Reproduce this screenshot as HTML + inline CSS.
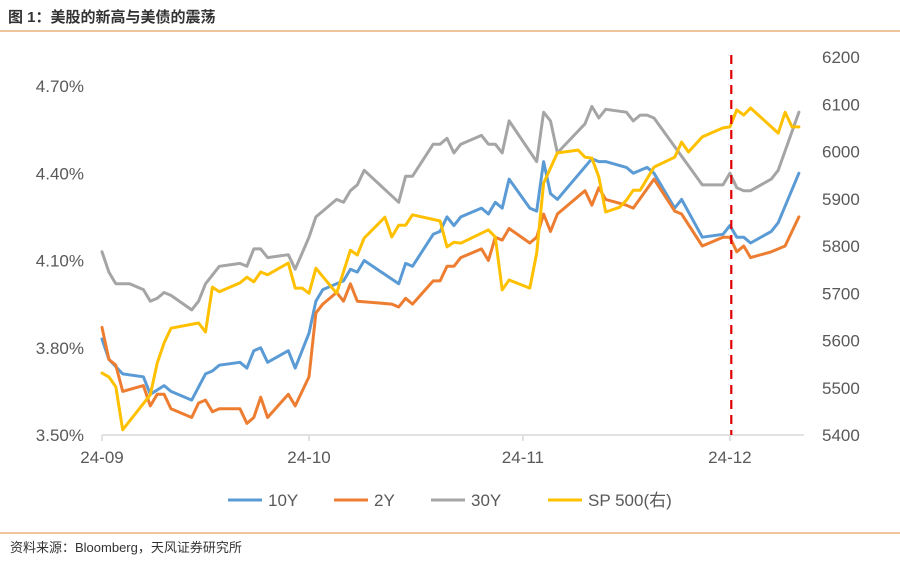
<!DOCTYPE html>
<html><head><meta charset="utf-8"><style>
html,body{margin:0;padding:0;background:#fff;width:900px;height:563px;overflow:hidden;}
svg{display:block;}
</style></head><body>
<svg id="chart" width="900" height="563" xmlns="http://www.w3.org/2000/svg">
<text x="8" y="22" font-family="Liberation Sans, Noto Sans CJK SC, sans-serif" font-size="15" font-weight="bold" fill="#333">图 1：美股的新高与美债的震荡</text>
<line x1="0" y1="31" x2="900" y2="31" stroke="#E8A15A" stroke-width="1.2"/>
<line x1="0" y1="533" x2="900" y2="533" stroke="#E8A15A" stroke-width="1.2"/>
<text x="10" y="552" font-family="Liberation Sans, Noto Sans CJK SC, sans-serif" font-size="13" fill="#333">资料来源：Bloomberg，天风证券研究所</text>
<g id="plot"></g>
</svg>
<script>
const xTickLabels = ["24-09","24-10","24-11","24-12"];
const xTickDays = [0,30,61,91];
const leftTicks = [3.5,3.8,4.1,4.4,4.7];
const rightTicks = [5400,5500,5600,5700,5800,5900,6000,6100,6200];
const markerDay = 91.2;

const d10 = [0,1,3,6,7,9,10,13,15,16,17,20,21,22,23,24,27,28,30,31,32,34,35,36,37,38,43,44,45,48,49,50,51,52,55,56,57,58,59,62,63,64,65,66,71,72,73,76,77,79,80,83,84,87,90,91,92,93,94,97,98,101];
const v10 = [3.83,3.76,3.71,3.70,3.64,3.67,3.65,3.62,3.71,3.72,3.74,3.75,3.73,3.79,3.80,3.75,3.79,3.73,3.85,3.96,4.00,4.02,4.03,4.07,4.06,4.10,4.02,4.09,4.08,4.19,4.20,4.25,4.22,4.25,4.28,4.26,4.30,4.28,4.38,4.28,4.27,4.44,4.33,4.31,4.45,4.44,4.44,4.42,4.40,4.42,4.40,4.28,4.31,4.18,4.19,4.22,4.18,4.18,4.16,4.20,4.23,4.40];

const d2 = [0,1,2,3,6,7,8,9,10,13,14,15,16,17,20,21,22,23,24,27,28,30,31,32,34,35,36,37,42,43,44,45,48,49,50,51,52,55,56,57,58,59,62,63,64,65,66,70,71,72,73,76,77,80,83,84,87,90,91,92,93,94,97,99,101];
const v2 = [3.87,3.76,3.74,3.65,3.67,3.60,3.64,3.64,3.59,3.56,3.61,3.62,3.58,3.59,3.59,3.54,3.56,3.63,3.56,3.64,3.60,3.70,3.92,3.95,3.99,3.96,4.02,3.96,3.95,3.94,3.97,3.95,4.03,4.03,4.08,4.08,4.11,4.14,4.10,4.18,4.17,4.21,4.16,4.18,4.26,4.20,4.26,4.34,4.29,4.35,4.31,4.29,4.28,4.38,4.27,4.26,4.15,4.18,4.18,4.13,4.15,4.11,4.13,4.15,4.25];

const d30 = [0,1,2,4,6,7,8,9,10,13,14,15,17,20,21,22,23,24,27,28,30,31,32,34,35,36,37,38,43,44,45,48,49,50,51,52,55,56,57,58,59,63,64,65,66,70,71,72,73,76,77,78,79,80,87,90,91,92,93,94,97,98,101];
const v30 = [4.13,4.06,4.02,4.02,4.00,3.96,3.97,3.99,3.98,3.93,3.96,4.02,4.08,4.09,4.08,4.14,4.14,4.11,4.12,4.07,4.18,4.25,4.27,4.31,4.30,4.34,4.36,4.41,4.30,4.39,4.39,4.50,4.50,4.52,4.47,4.50,4.53,4.50,4.50,4.47,4.58,4.44,4.61,4.58,4.47,4.57,4.63,4.59,4.62,4.61,4.58,4.60,4.60,4.59,4.36,4.36,4.40,4.35,4.34,4.34,4.38,4.41,4.61];

const dSpx = [0,1,2,3,7,8,9,10,14,15,16,17,20,21,22,23,24,27,28,29,30,31,34,36,37,38,41,42,43,44,45,49,50,51,52,55,56,57,58,59,62,63,64,65,66,69,70,71,72,73,75,76,77,78,80,83,84,85,87,90,91,92,93,94,98,99,100,101];
const vSpx = [5531,5523,5502,5411,5485,5552,5595,5626,5637,5618,5713,5703,5722,5734,5724,5745,5739,5764,5711,5711,5700,5753,5700,5791,5781,5817,5861,5819,5844,5844,5866,5853,5798,5808,5806,5827,5834,5819,5707,5728,5711,5785,5933,5965,5997,6003,5988,5986,5946,5872,5882,5897,5918,5918,5967,5988,6020,5999,6031,6050,6052,6088,6077,6092,6039,6083,6052,6052];

const X0=102, PX_PER_DAY=6.9, YB=435;
function xs(d){return X0 + d*PX_PER_DAY;}
function yL(v){return YB - (v-3.5)/0.3*87.25;}
function yR(v){return YB - (v-5400)/100*47.25;}

const NS="http://www.w3.org/2000/svg";
const plot=document.getElementById('plot');
function mk(tag,attrs){const e=document.createElementNS(NS,tag);for(const k in attrs)e.setAttribute(k,attrs[k]);plot.appendChild(e);return e;}
const FONT='Liberation Sans, Noto Sans CJK SC, sans-serif';

// axis line
let ax=mk('line',{x1:X0,y1:YB,x2:804,y2:YB,stroke:'#D9D9D9','stroke-width':1.5});



xTickDays.forEach((d,i)=>{
  let t=mk('line',{x1:xs(d),y1:YB,x2:xs(d),y2:YB+6,stroke:'#D9D9D9','stroke-width':1.5});
  
  
  let l=mk('text',{x:xs(d),y:YB+28,'text-anchor':'middle','font-family':FONT,'font-size':17,fill:'#595959'});
  l.textContent=xTickLabels[i];
  
  
});
leftTicks.forEach(v=>{
  let l=mk('text',{x:84,y:yL(v)+6,'text-anchor':'end','font-family':FONT,'font-size':17,fill:'#595959'});
  l.textContent=v.toFixed(2)+'%';
  
  
});
rightTicks.forEach(v=>{
  let l=mk('text',{x:822,y:yR(v)+6,'font-family':FONT,'font-size':17,fill:'#595959'});
  l.textContent=String(v);
  
  
});

function series(ds,vs,yf,color,name){
  const pts=ds.map((d,i)=>xs(d).toFixed(1)+','+yf(vs[i]).toFixed(1)).join(' ');
  let p=mk('polyline',{points:pts,fill:'none',stroke:color,'stroke-width':3,'stroke-linejoin':'round','stroke-linecap':'round'});
  
  
}
series(d30,v30,yL,'#A5A5A5','series-30y');
series(d10,v10,yL,'#5B9BD5','series-10y');
series(d2,v2,yL,'#ED7D31','series-2y');
series(dSpx,vSpx,yR,'#FFC000','series-sp500');

let m=mk('line',{x1:xs(markerDay),y1:55,x2:xs(markerDay),y2:YB,stroke:'#E00000','stroke-width':2.2,'stroke-dasharray':'9,6'});



const legNames=['10Y','2Y','30Y','SP 500(右)'];
const legColors=['#5B9BD5','#ED7D31','#A5A5A5','#FFC000'];
const legX=[228,334,431,548];
legNames.forEach((n,i)=>{
  let g=mk('line',{x1:legX[i],y1:500,x2:legX[i]+34,y2:500,stroke:legColors[i],'stroke-width':3});
  
  
  let t=mk('text',{x:legX[i]+40,y:506,'font-family':FONT,'font-size':17,fill:'#595959'});
  t.textContent=n;
  
  
});
</script>
</body></html>
